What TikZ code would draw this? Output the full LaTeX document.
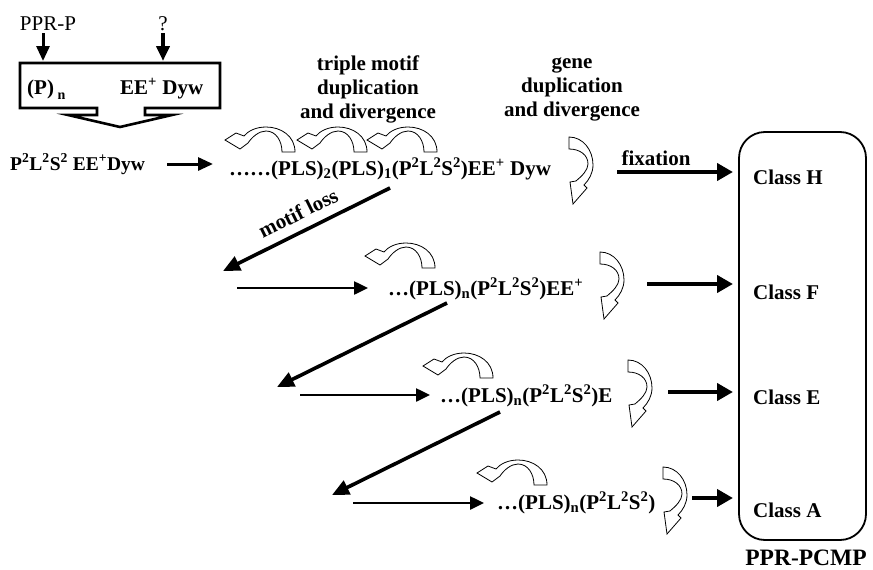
\documentclass[tikz,border=0pt]{standalone}
\usepackage{fontspec}
\setmainfont{Liberation Serif}
\usetikzlibrary{arrows.meta}

\tikzset{
  lbl/.style={font=\bfseries\fontsize{21}{24}\selectfont, inner sep=0pt},
  plain/.style={font=\fontsize{21}{22}\selectfont, inner sep=0pt},
  flow/.style={line width=2.5pt, -{Triangle[length=14pt,width=13pt]}},
  loss/.style={line width=3.6pt, -{Triangle[length=17pt,width=15pt]}},
  fix/.style={line width=4.5pt, -{Triangle[length=16pt,width=17pt]}},
  feed/.style={line width=3pt, -{Triangle[length=15pt,width=13pt]}},
  curvarrow/.style={draw=black, fill=white, line width=0.8pt, line join=miter},
  pics/archarrow/.style={code={
    \path[curvarrow] (72,0) .. controls (72,-16) and (58,-25) .. (43,-25)
      .. controls (33,-25) and (25,-21) .. (21,-16)
      -- (13,-19) -- (2,-12) -- (17,-3) -- (25,-9)
      .. controls (29,-15) and (36,-21) .. (43,-21)
      .. controls (53,-21) and (59,-11) .. (59,0) -- cycle;
  }},
  pics/genearrow/.style={code={
    \path[curvarrow] (0,0) .. controls (14,0) and (24,13) .. (24,28)
      .. controls (24,36) and (20,43) .. (15,48)
      -- (18,51) -- (4,67) -- (1,45) -- (7,44)
      .. controls (13,39) and (19,33) .. (19,27)
      .. controls (19,18) and (11,12) .. (0,12) -- cycle;
  }},
}

\begin{document}
\begin{tikzpicture}[x=1pt,y=-1pt]
\useasboundingbox (0,0) rectangle (873,570);

% ---- source box with block arrow underneath ----
\draw[line width=2.6pt, line join=miter]
  (20,63) -- (220,63) -- (220,108) -- (145,108) -- (145,115) -- (172,115)
  -- (120,127) -- (68,115) -- (97,115) -- (97,108) -- (20,108) -- cycle;
\node[lbl, anchor=base west] (pn) at (27,94) {(P)\,\raisebox{-5pt}{\fontsize{14}{15}\selectfont n}};
\node[lbl, anchor=base west] (eedyw) at (120,94) {EE\textsuperscript{+} Dyw};

\node[plain] (pprp) at (48,24) {PPR-P};
\node[plain] (qm) at (163,24) {?};
\coordinate (in1) at (43,61);
\coordinate (in2) at (163,61);
\draw[feed] (pprp.south -| in1) ++(0,2) -- (in1);
\draw[feed, line width=4pt] (qm.south -| in2) ++(0,2) -- (in2);

% ---- first row ----
\node[lbl, font=\bfseries\fontsize{19.5}{24}\selectfont, anchor=base west] (start) at (10,170)
  {P\textsuperscript{2}L\textsuperscript{2}S\textsuperscript{2} EE\textsuperscript{+}Dyw};
\node[lbl, anchor=base west] (r1) at (229,175)
  {……(PLS)\textsubscript{2}(PLS)\textsubscript{1}(P\textsuperscript{2}L\textsuperscript{2}S\textsuperscript{2})EE\textsuperscript{+} Dyw};
\coordinate (r0a) at (167,164); \coordinate (r0b) at (213,164);
\draw[feed] (r0a) -- (r0b);

\node[lbl, align=center] (tm) at (368,89) {triple motif\\duplication\\and divergence};
\node[lbl, align=center] (gd) at (572,89) {gene\\duplication\\and divergence};

\pic (a1) at (223,152) {archarrow};
\pic (a2) at (295,152) {archarrow};
\pic (a3) at (365,152) {archarrow};
\pic (g1) at (569,137) {genearrow};

\node[lbl] (fx) at (656,158) {fixation};

% ---- class box ----
\node[draw, line width=1.8pt, rounded corners=26pt, minimum width=127pt,
      minimum height=408pt, inner sep=0pt] (ppr) at (802.5,336) {};
\node[lbl, anchor=west] (ch) at (753,177) {Class H};
\node[lbl, anchor=west] (cf) at (753,292) {Class F};
\node[lbl, anchor=west] (ce) at (753,397) {Class E};
\node[lbl, anchor=west] (ca) at (753,510) {Class A};
\node[lbl, font=\bfseries\fontsize{23.5}{24}\selectfont] (pcmp) at (806,558) {PPR-PCMP};

\coordinate (hOut) at (617,172);  \coordinate (hIn) at (733,172);
\coordinate (fOut) at (647,284);  \coordinate (fIn) at (733,284);
\coordinate (eOut) at (668,392);  \coordinate (eIn) at (733,392);
\coordinate (aOut) at (692,498);  \coordinate (aIn) at (733,498);
\draw[fix] (hOut) -- (hIn);
\draw[fix] (fOut) -- (fIn);
\draw[fix] (eOut) -- (eIn);
\draw[fix] (aOut) -- (aIn);

% ---- motif loss cascade ----
\coordinate (l1s) at (390,188); \coordinate (l1e) at (223,271);
\coordinate (l2s) at (447,303); \coordinate (l2e) at (277,387);
\coordinate (l3s) at (500,412); \coordinate (l3e) at (332,495);
\draw[loss] (l1s) -- (l1e);
\draw[loss] (l2s) -- (l2e);
\draw[loss] (l3s) -- (l3e);
\node[lbl, rotate=26.4] (ml) at (298,213) {motif loss};

% second row
\coordinate (r2a) at (237,288); \coordinate (r2b) at (368,288);
\draw[flow] (r2a) -- (r2b);
\node[lbl, anchor=base west] (r2) at (388,295)
  {…(PLS)\textsubscript{n}(P\textsuperscript{2}L\textsuperscript{2}S\textsuperscript{2})EE\textsuperscript{+}};
\pic (a4) at (363,268) {archarrow};
\pic (g2) at (600,252) {genearrow};

% third row
\coordinate (r3a) at (300,395); \coordinate (r3b) at (430,395);
\draw[flow] (r3a) -- (r3b);
\node[lbl, anchor=base west] (r3) at (440,402)
  {…(PLS)\textsubscript{n}(P\textsuperscript{2}L\textsuperscript{2}S\textsuperscript{2})E};
\pic (a5) at (421,378) {archarrow};
\pic (g3) at (628,360) {genearrow};

% fourth row
\coordinate (r4a) at (353,503); \coordinate (r4b) at (484,503);
\draw[flow] (r4a) -- (r4b);
\node[lbl, anchor=base west] (r4) at (497,509)
  {…(PLS)\textsubscript{n}(P\textsuperscript{2}L\textsuperscript{2}S\textsuperscript{2})};
\pic (a6) at (475,485) {archarrow};
\pic (g4) at (663,467) {genearrow};
\end{tikzpicture}
\end{document}
